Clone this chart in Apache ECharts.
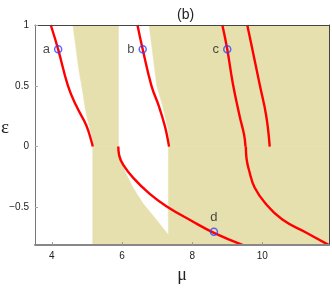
<!DOCTYPE html>
<html>
<head>
<meta charset="utf-8">
<script src="https://cdn.jsdelivr.net/npm/echarts@6/dist/echarts.min.js"></script>
<style>html,body{margin:0;padding:0;background:#fff}#c{width:332px;height:289px}</style>
</head>
<body>
<div id="c"></div>
<script>
// ---- data (μ, ε) ----
const xTicks = [4, 6, 8, 10];
const yTicks = [-0.5, 0, 0.5, 1];

// shaded (unstable) regions
const regionBand1 = [[4.60,1],[4.76,0.648],[4.88,0.45],[4.94,0.333],[4.99,0.254],[5.06,0.176],[5.13,0.1],[5.166,0.04],[5.166,0],[5.9,0],[5.9,1]];
const regionLower = [[5.166,0],[5.166,-0.81],[11.9,-0.81],[11.9,0],[7.32,0],[7.32,-0.724],[6.94,-0.588],[6.60,-0.468],[6.31,-0.336],[6.08,-0.202],[5.97,-0.1],[5.894,0]];
const regionBand2 = [[6.77,1],[6.86,0.8],[6.99,0.5],[7.16,0.333],[7.32,0.136],[7.35,0.05],[7.35,0],[11.9,0],[11.9,1]];

// red curves
const curveA = [[3.97,1],[4.18,0.8],[4.46,0.5],[4.70,0.333],[4.98,0.176],[5.13,0.042],[5.166,0]];
const curveB = [[6.44,1],[6.59,0.8],[6.84,0.5],[7.05,0.333],[7.22,0.17],[7.31,0.05],[7.34,0]];
const curveD = [[5.894,0],[5.92,-0.074],[6.04,-0.153],[6.32,-0.257],[6.79,-0.389],[7.264,-0.49],[7.99,-0.612],[8.62,-0.709],[9.45,-0.81]];
const curveCUpper = [[8.86,1],[9.0,0.8],[9.16,0.517],[9.35,0.254],[9.48,0.097],[9.52,0]];
const curveCLower = [[9.53,0],[9.55,-0.1],[9.63,-0.205],[9.78,-0.336],[10.09,-0.468],[10.57,-0.6],[11.23,-0.704],[11.9,-0.81]];
const curveE = [[9.57,1],[9.73,0.78],[9.92,0.517],[10.11,0.254],[10.21,0]];

// marked points
const pointNames = ['a','b','c','d'];
const pointMu = [4.18, 6.59, 9.0, 8.62];
const pointEps = [0.8, 0.8, 0.8, -0.7];

// ---- chart ----
const TAN = '#E6E0AE';
const RED = '#FF0000';
const BLUE = '#3344FF';
const FONT = 'Liberation Sans, Arial, sans-serif';
const regions = [regionBand1, regionLower, regionBand2];

const chart = echarts.init(document.getElementById('c'), null, {renderer: 'canvas'});

function redLine(d) {
  return {type: 'line', data: d, showSymbol: false, smooth: 0.45, clip: true, z: 3,
    lineStyle: {color: RED, width: 2.4}, itemStyle: {color: RED}, silent: true};
}

const option = {
  animation: false,
  backgroundColor: '#fff',
  title: {text: '(b)', left: 172, top: 3, textStyle: {fontFamily: FONT, fontSize: 14, fontWeight: 'normal', color: '#222'}},
  grid: {left: 35, top: 25, right: 3, bottom: 34, containLabel: false},
  xAxis: [{
    type: 'value', min: 3.52, max: 11.9, z: 10,
    axisLine: {show: true, onZero: false, lineStyle: {color: '#888', width: 2}},
    axisTick: {show: true, inside: true, length: 3, customValues: xTicks, lineStyle: {color: '#999'}},
    axisLabel: {customValues: xTicks, fontFamily: FONT, fontSize: 10, color: '#222', margin: 6},
    splitLine: {show: false},
    name: 'μ', nameLocation: 'middle', nameGap: 17,
    nameTextStyle: {fontFamily: 'Liberation Serif, serif', fontSize: 18, color: '#222'}
  }, {
    type: 'value', position: 'top', min: 3.52, max: 11.9, z: 10,
    axisLine: {show: true, onZero: false, lineStyle: {color: '#444', width: 1}},
    axisTick: {show: false}, axisLabel: {show: false}, splitLine: {show: false}
  }],
  yAxis: [{
    type: 'value', min: -0.81, max: 1, z: 10,
    axisLine: {show: true, onZero: false, lineStyle: {color: '#777', width: 1}},
    axisTick: {show: true, inside: true, length: 3, customValues: yTicks, lineStyle: {color: '#aaa'}},
    axisLabel: {customValues: yTicks, fontFamily: FONT, fontSize: 10, color: '#222', margin: 6,
      formatter: v => (v < 0 ? '\u2212' + Math.abs(v) : String(v))},
    splitLine: {show: false}
  }, {
    type: 'value', position: 'right', min: -0.81, max: 1, z: 10,
    axisLine: {show: true, onZero: false, lineStyle: {color: '#444', width: 1}},
    axisTick: {show: false}, axisLabel: {show: false}, splitLine: {show: false}
  }],
  graphic: [{
    type: 'text', left: 1, top: 119, z: 20,
    style: {text: 'ε', fontFamily: 'Liberation Serif, serif', fontSize: 19, fill: '#222'}
  }],
  series: [
    {
      type: 'custom', coordinateSystem: 'cartesian2d', xAxisIndex: 0, yAxisIndex: 0, clip: true, z: 1, silent: true,
      data: regions.map((r, i) => [r[0][0], r[0][1], i]),
      encode: {x: 0, y: 1},
      renderItem: (params, api) => {
        const poly = regions[params.dataIndex];
        return {type: 'polygon', shape: {points: poly.map(p => api.coord(p))},
          style: {fill: TAN, stroke: TAN, lineWidth: 0.5}};
      }
    },
    redLine(curveA), redLine(curveB), redLine(curveD),
    redLine(curveCUpper), redLine(curveCLower), redLine(curveE),
    {
      type: 'scatter', z: 5, silent: true,
      data: pointMu.map((m, i) => ({value: [m, pointEps[i]], name: pointNames[i],
        label: {position: pointNames[i] === 'd' ? 'top' : 'left'}})),
      symbol: 'circle', symbolSize: 7,
      itemStyle: {color: 'rgba(0,0,0,0)', borderColor: BLUE, borderWidth: 1.5},
      label: {show: true, formatter: p => p.name, distance: 4, fontFamily: FONT, fontSize: 13, color: '#222'}
    }
  ]
};
chart.setOption(option);
</script>
</body>
</html>
